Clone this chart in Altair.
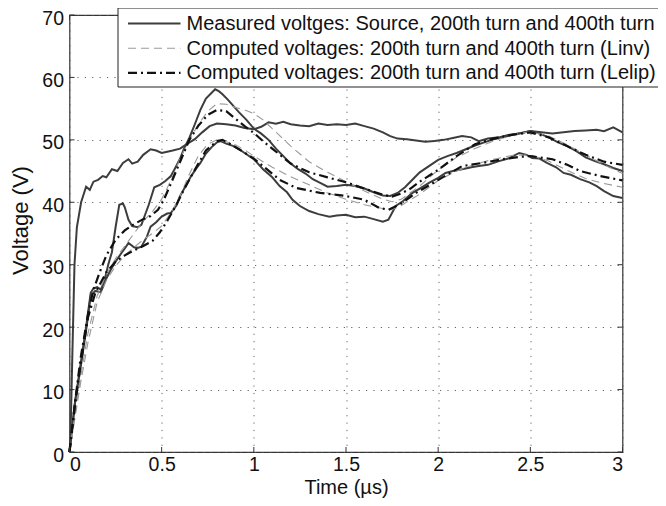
import altair as alt
import pandas as pd

# ---------------- data ----------------
t_src = [0, 0.005, 0.015, 0.027, 0.04, 0.063, 0.09, 0.11, 0.13, 0.155, 0.18, 0.2, 0.23, 0.26, 0.29, 0.32, 0.34,
         0.37, 0.4, 0.44, 0.47, 0.5, 0.53, 0.56, 0.6, 0.64, 0.68, 0.72, 0.76, 0.8, 0.85, 0.9, 0.95, 1.0, 1.04,
         1.08, 1.12, 1.16, 1.2, 1.25, 1.3, 1.35, 1.4, 1.45, 1.5, 1.55, 1.6, 1.65, 1.7, 1.74, 1.78, 1.83, 1.88,
         1.93, 1.98, 2.03, 2.08, 2.13, 2.18, 2.22, 2.27, 2.33, 2.38, 2.44, 2.5, 2.56, 2.62, 2.68, 2.74, 2.8,
         2.86, 2.9, 2.95, 3.0]
v_src = [0, 2, 15, 30, 36, 40, 42.5, 42, 43.3, 43.6, 44.2, 44.0, 45.3, 45.0, 46.3, 46.9, 46.2,
         46.5, 47.6, 48.5, 48.3, 47.9, 48.1, 48.3, 48.6, 49.4, 50.1, 51.2, 52.2, 52.6, 52.5, 52.3, 51.9, 51.7, 52.1,
         52.8, 52.6, 52.9, 52.5, 52.3, 52.2, 52.6, 52.4, 52.5, 52.4, 52.6, 52.2, 51.8, 51.2, 50.6, 50.2, 50.1, 49.9,
         49.7, 49.8, 50.0, 50.3, 50.6, 50.4, 49.8, 50.2, 50.4, 50.8, 51.0, 51.4, 51.2, 51.0, 51.2, 51.4, 51.5,
         51.6, 51.4, 52.0, 51.2]

t_m200 = [0, 0.03, 0.06, 0.09, 0.115, 0.13, 0.15, 0.17, 0.19, 0.21, 0.23, 0.25, 0.27, 0.29, 0.30, 0.32, 0.34,
          0.37, 0.39, 0.41, 0.43, 0.46, 0.49, 0.52, 0.55, 0.57, 0.6, 0.62, 0.65, 0.68, 0.71, 0.74, 0.77, 0.79,
          0.81, 0.83, 0.86, 0.89, 0.92, 0.96, 1.0, 1.04, 1.08, 1.12, 1.16, 1.2, 1.24, 1.28, 1.32, 1.36, 1.4,
          1.45, 1.5, 1.55, 1.6, 1.65, 1.7, 1.74, 1.78, 1.82, 1.86, 1.9, 1.95, 2.0, 2.05, 2.1, 2.15, 2.2, 2.25,
          2.3, 2.35, 2.4, 2.45, 2.5, 2.55, 2.6, 2.65, 2.7, 2.75, 2.8, 2.85, 2.9, 2.95, 3.0]
v_m200 = [0, 8, 14, 20, 25.5, 26.2, 26.4, 26.0, 27.5, 30, 32, 36, 39.6, 39.8, 39.2, 37.2, 36.2,
          36.0, 36.4, 38.0, 39.6, 42.4, 42.8, 43.4, 44.2, 45.3, 47.0, 48.5, 50.3, 52.5, 54.8, 56.6, 57.5, 58.1,
          57.8, 57.3, 56.4, 55.4, 54.4, 53.2, 51.8, 51.0, 50.0, 48.6, 47.4, 46.2, 45.3, 44.6, 43.7, 43.1, 42.5,
          42.6, 42.8, 42.6, 42.2, 41.6, 41.1, 41.0, 41.5, 42.4, 43.6, 44.8, 45.8, 46.8, 47.4, 47.9, 48.5, 49.1, 49.6,
          50.1, 50.4, 50.8, 51.1, 51.4, 51.0, 50.4, 49.6, 49.0, 48.2, 47.2, 46.6, 46.1, 45.5, 45.0]

t_m400 = [0, 0.03, 0.06, 0.09, 0.115, 0.14, 0.17, 0.2, 0.22, 0.25, 0.28, 0.3, 0.32, 0.35, 0.37, 0.39, 0.42,
          0.44, 0.47, 0.5, 0.53, 0.55, 0.58, 0.6, 0.63, 0.66, 0.69, 0.71, 0.74, 0.77, 0.8, 0.82, 0.85, 0.89,
          0.93, 0.96, 1.0, 1.05, 1.1, 1.14, 1.18, 1.21, 1.25, 1.3, 1.35, 1.41, 1.45, 1.5, 1.55, 1.6, 1.65, 1.7,
          1.73, 1.77, 1.81, 1.86, 1.9, 1.95, 2.0, 2.04, 2.08, 2.13, 2.18, 2.22, 2.27, 2.33, 2.38, 2.44, 2.48,
          2.51, 2.55, 2.59, 2.64, 2.68, 2.72, 2.77, 2.82, 2.86, 2.9, 2.95, 3.0]
v_m400 = [0, 8, 13.5, 19.5, 25, 25.8, 25.6, 27.8, 29, 30.5, 31.8, 32.6, 33.5, 32.8, 32.7, 32.9, 34.5,
          36.1, 36.8, 37.7, 38.2, 38.3, 39.5, 41.0, 42.6, 44.2, 45.5, 46.3, 47.8, 48.8, 49.6, 49.8, 49.4, 49.0,
          48.3, 47.7, 46.9, 45.3, 44.0, 42.6, 41.6, 40.4, 39.4, 38.6, 38.1, 37.7, 37.9, 38.0, 37.6, 37.7, 37.3, 36.9,
          37.2, 39.4, 40.2, 41.5, 42.2, 43.1, 43.9, 44.7, 45.0, 45.3, 45.6, 45.8, 46.0, 46.6, 47.0, 47.9, 47.6,
          47.1, 47.0, 46.3, 45.6, 44.7, 44.4, 43.7, 43.2, 42.6, 41.8, 41.0, 40.7]

t_linv = [0, 0.03, 0.06, 0.1, 0.15, 0.2, 0.25, 0.3, 0.35, 0.4, 0.45, 0.5, 0.55, 0.6, 0.65, 0.7, 0.75, 0.8,
          0.85, 0.9, 0.95, 1.0, 1.05, 1.1, 1.2, 1.3, 1.4, 1.5, 1.6, 1.7, 1.75, 1.8, 1.9, 2.0, 2.1, 2.2, 2.3,
          2.4, 2.5, 2.6, 2.7, 2.8, 2.9, 3.0]
v_linv200 = [0, 6, 12, 19, 25, 28.5, 31, 33, 35, 37, 38.5, 40.5, 43.5, 47, 50, 52.5, 54.6, 55.8,
             55.7, 55.2, 54.8, 54.2, 53.2, 51.8, 49, 46.5, 44.8, 43.3, 41.8, 40.5, 40.1, 40.5, 42.6, 45.2, 47.2,
             48.6, 49.8, 50.8, 51.3, 50.6, 49.2, 47.6, 46.0, 44.6]
v_linv400 = [0, 5.5, 11, 17.5, 24, 27.5, 29.8, 31.5, 32.8, 34, 35, 36.2, 38.3, 41, 44.5, 47.5, 49.3, 50.0,
             49.7, 49.2, 48.4, 47.4, 46.5, 45.6, 44.1, 42.8, 41.5, 40.5, 39.6, 39.0, 38.8, 39.5, 41.3, 43.5, 45.0,
             46.1, 46.9, 47.5, 47.6, 46.6, 45.1, 43.8, 43.0, 42.4]

t_lel200 = [0, 0.03, 0.06, 0.1, 0.13, 0.16, 0.2, 0.25, 0.3, 0.35, 0.4, 0.44, 0.48, 0.51, 0.55, 0.6, 0.65,
            0.7, 0.75, 0.8, 0.85, 0.9, 0.95, 1.0, 1.05, 1.1, 1.2, 1.3, 1.4, 1.5, 1.6, 1.7, 1.75, 1.8, 1.85,
            1.9, 2.0, 2.1, 2.2, 2.3, 2.4, 2.5, 2.6, 2.7, 2.8, 2.9, 3.0]
v_lel200 = [0, 8, 15, 22, 26, 28.5, 31.5, 34, 35.5, 36.5, 37.3, 37.8, 38.8, 40.3, 43, 46.5, 50,
            52.3, 54.0, 54.8, 54.6, 53.4, 52.2, 51.1, 49.8, 48.6, 46.2, 44.8, 44.0, 43.2, 42.2, 41.2, 40.9, 41.4,
            42.2, 43.3, 45.2, 47.4, 49.3, 50.2, 50.8, 51.2, 50.4, 49.0, 47.6, 46.5, 46.0]

t_lel400 = [0, 0.03, 0.06, 0.1, 0.14, 0.2, 0.25, 0.3, 0.35, 0.4, 0.45, 0.49, 0.53, 0.58, 0.62, 0.67, 0.74,
            0.8, 0.83, 0.88, 0.92, 1.0, 1.05, 1.14, 1.23, 1.36, 1.45, 1.5, 1.6, 1.68, 1.73, 1.8, 1.88, 1.99,
            2.13, 2.24, 2.35, 2.45, 2.5, 2.62, 2.7, 2.77, 2.88, 3.0]
v_lel400 = [0, 7.5, 14, 21.5, 25.5, 28.8, 30.5, 31.5, 32.3, 33, 33.8, 35.2, 37, 39.6, 42, 44.7, 48.3,
            49.8, 50.0, 49.2, 48.5, 47, 45.8, 43.6, 42.3, 41.5, 41.2, 41, 40.4, 39.1, 38.8, 39.8, 41.5, 43.4,
            45.8, 46.3, 46.9, 47.3, 47.4, 46.9, 46, 45, 44.2, 43.5]

x_ticks = [0, 0.5, 1, 1.5, 2, 2.5, 3]
y_ticks = [0, 10, 20, 30, 40, 50, 60, 70]

legend_labels = [
    "Measured voltges: Source, 200th turn and 400th turn",
    "Computed voltages: 200th turn and 400th turn (Linv)",
    "Computed voltages: 200th turn and 400th turn (Lelip)",
]

# ---------------- frames ----------------
def frame(name, t, v):
    return pd.DataFrame({"t": t, "v": v, "curve": name})

measured = pd.concat([frame("src", t_src, v_src), frame("m200", t_m200, v_m200),
                      frame("m400", t_m400, v_m400)])
linv = pd.concat([frame("l200", t_linv, v_linv200), frame("l400", t_linv, v_linv400)])
lelip = pd.concat([frame("e200", t_lel200, v_lel200), frame("e400", t_lel400, v_lel400)])

W, H = 553, 437
FONT = "Liberation Sans"
FS_TICK = 19.5
FS_LEG = 20
FS_TITLE = 20

xs = alt.Scale(domain=[0, 3], nice=False, zero=False)
ys = alt.Scale(domain=[0, 70], nice=False)

x_enc = alt.X("t:Q", scale=xs,
              axis=alt.Axis(values=x_ticks, format="~g", title="Time (µs)", grid=True,
                            titleBaseline="alphabetic", titleY=41.5))
y_enc = alt.Y("v:Q", scale=ys,
              axis=alt.Axis(values=y_ticks, title="Voltage (V)", grid=True,
                            titleX=-49.5, titleY=205, titleBaseline="middle", titleFontSize=22))

COL_M = "#3d3d3d"
COL_LINV = "#9a9a9a"
COL_LEL = "#111111"
DASH_LINV = [8, 5]
DASH_LEL = [9, 4, 2, 4]

m_layer = alt.Chart(measured).mark_line(color=COL_M, strokeWidth=2.0).encode(
    x=x_enc, y=y_enc, detail="curve:N", order="t:Q")
linv_layer = alt.Chart(linv).mark_line(color=COL_LINV, strokeWidth=1.1, strokeDash=DASH_LINV).encode(
    x=alt.X("t:Q", scale=xs), y=alt.Y("v:Q", scale=ys), detail="curve:N", order="t:Q")
lel_layer = alt.Chart(lelip).mark_line(color=COL_LEL, strokeWidth=2.2, strokeDash=DASH_LEL).encode(
    x=alt.X("t:Q", scale=xs), y=alt.Y("v:Q", scale=ys), detail="curve:N", order="t:Q")

# inward ticks (MATLAB style)
xt = pd.DataFrame({"t": x_ticks})
yt = pd.DataFrame({"v": y_ticks})
TK = 5
tick_col = "#333333"
xb = alt.Chart(xt).mark_rule(color=tick_col, strokeWidth=1).encode(
    x=alt.X("t:Q", scale=xs), y=alt.value(H), y2=alt.value(H - TK))
xtop = alt.Chart(xt).mark_rule(color=tick_col, strokeWidth=1).encode(
    x=alt.X("t:Q", scale=xs), y=alt.value(0), y2=alt.value(TK))
yl = alt.Chart(yt).mark_rule(color=tick_col, strokeWidth=1).encode(
    y=alt.Y("v:Q", scale=ys), x=alt.value(0), x2=alt.value(TK))
yr = alt.Chart(yt).mark_rule(color=tick_col, strokeWidth=1).encode(
    y=alt.Y("v:Q", scale=ys), x=alt.value(W), x2=alt.value(W - TK))

# legend box
one = pd.DataFrame({"a": [0]})
LX0, LY0, LX2, LY2 = 48.5, -7, 620, 72
box = alt.Chart(one).mark_rect(fill="white", stroke="#222222", strokeWidth=1, clip=False).encode(
    x=alt.value(LX0), x2=alt.value(LX2), y=alt.value(LY0), y2=alt.value(LY2))

rows_y = [8.5, 33.2, 57.8]
styles = [dict(color=COL_M, strokeWidth=2.0),
          dict(color=COL_LINV, strokeWidth=1.1, strokeDash=DASH_LINV),
          dict(color=COL_LEL, strokeWidth=2.2, strokeDash=DASH_LEL)]
leg_layers = []
for lab, ry, st in zip(legend_labels, rows_y, styles):
    leg_layers.append(alt.Chart(one).mark_rule(clip=False, **st).encode(
        x=alt.value(58.5), x2=alt.value(111), y=alt.value(ry)))
    leg_layers.append(alt.Chart(one).mark_text(
        text=lab, align="left", baseline="middle", font=FONT, fontSize=FS_LEG, color="#111111",
        clip=False).encode(x=alt.value(117), y=alt.value(ry + 0.5)))

chart = alt.layer(
    m_layer, linv_layer, lel_layer, xb, xtop, yl, yr, box, *leg_layers
).properties(
    width=W, height=H,
    autosize=alt.AutoSizeParams(type="none"),
    padding={"left": 61.5, "top": 7, "right": 35.5, "bottom": 46},
    background="white",
).configure_view(
    stroke="#333333", strokeWidth=1.2
).configure_axis(
    domain=False, ticks=False, grid=True,
    gridColor="#555555", gridDash=[1.2, 6.2], gridWidth=1, gridOpacity=0.9,
    labelFont=FONT, labelFontSize=FS_TICK, labelColor="#111111",
    titleFont=FONT, titleFontSize=FS_TITLE, titleFontWeight="normal", titleColor="#111111",
).configure_axisX(
    labelPadding=3.5
).configure_axisY(
    labelPadding=6, labelOffset=3
)

chart.save("out.html", embed_options={"renderer": "svg", "actions": False})
